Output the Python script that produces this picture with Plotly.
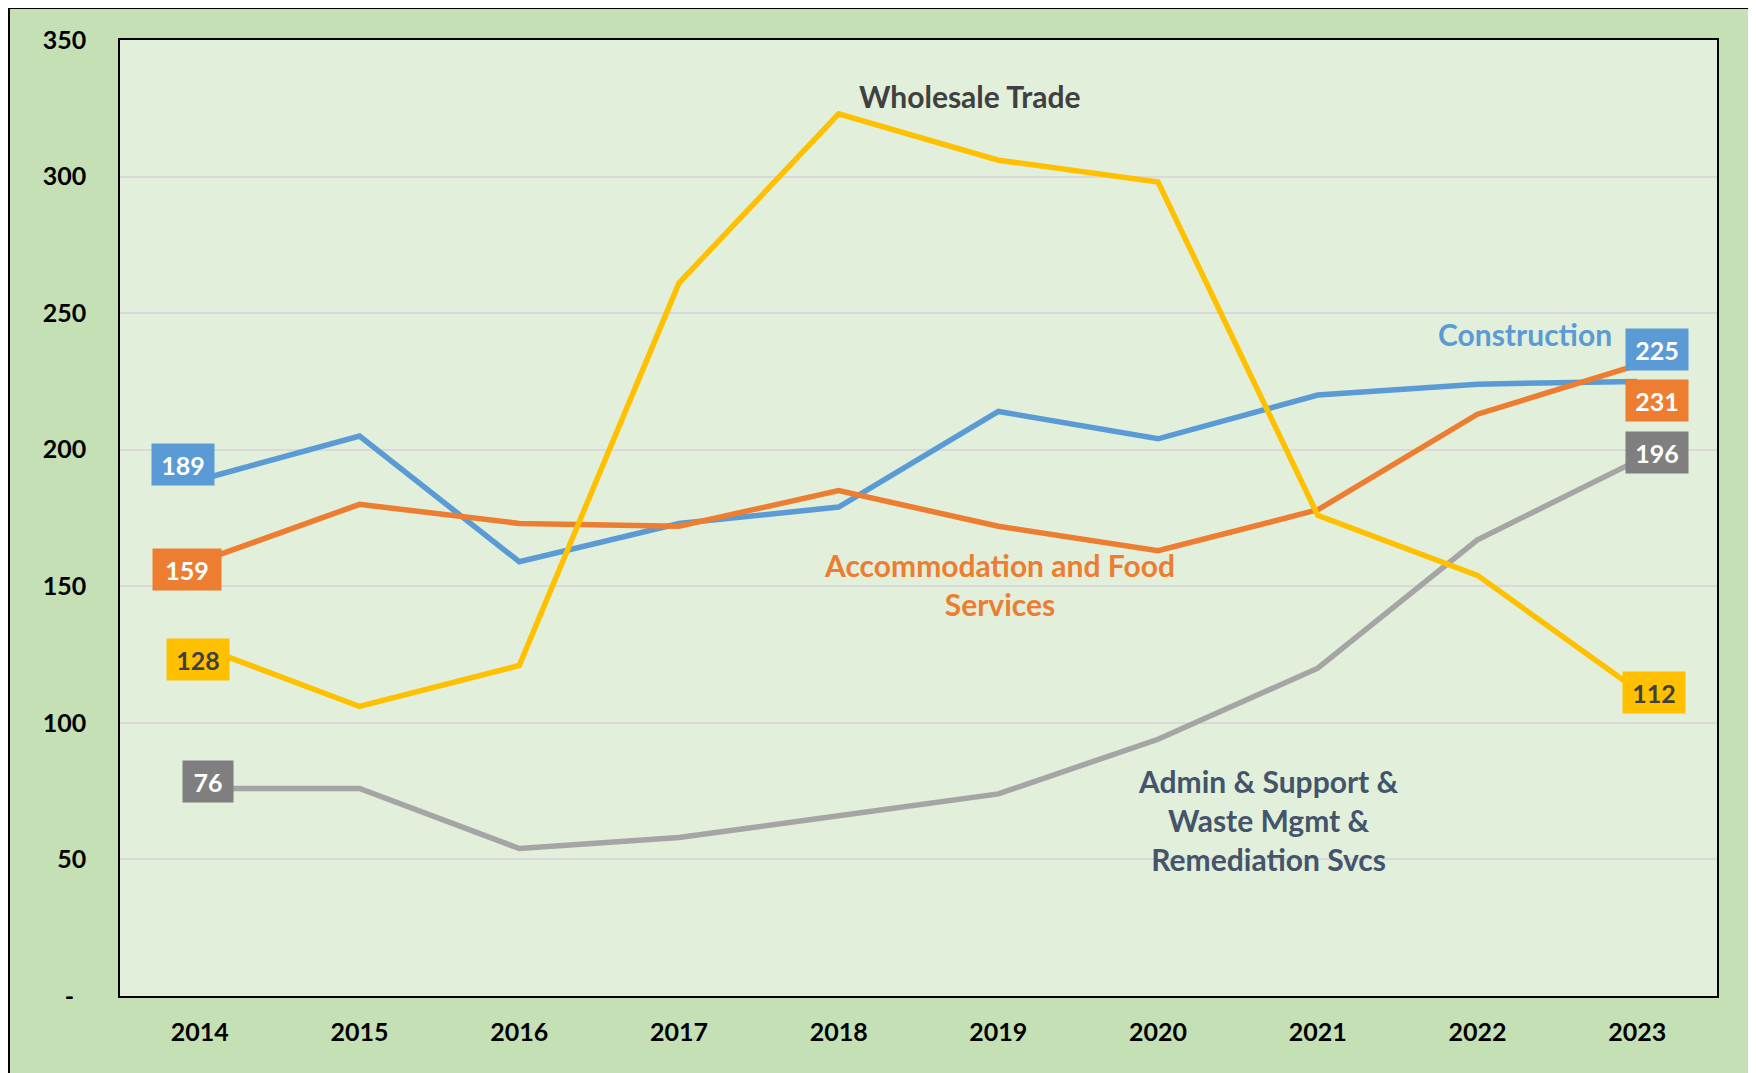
import plotly.graph_objects as go

# ---------------- data ----------------
years = ["2014", "2015", "2016", "2017", "2018", "2019", "2020", "2021", "2022", "2023"]
construction = [189, 205, 159, 173, 179, 214, 204, 220, 224, 225]
accommodation = [159, 180, 173, 172, 185, 172, 163, 178, 213, 231]
admin = [76, 76, 54, 58, 66, 74, 94, 120, 167, 196]
wholesale = [128, 106, 121, 261, 323, 306, 298, 176, 154, 112]
y_tickvals = [0, 50, 100, 150, 200, 250, 300, 350]
y_ticktext = ["-\u00a0\u00a0", "50", "100", "150", "200", "250", "300", "350"]

# ---------------- styles ----------------
FONT = "Lato"
W, H = 1748, 1065          # page has an 8px body margin
ML, MR, MT, MB = 112, 39, 32, 77

series = [
    dict(name="Construction", y=construction, color="#5B9BD5", box="#5B9BD5", txt="white",
         first=(-17, 15), last=(20, 32), w0=56, w1=56),
    dict(name="Accommodation and Food Services", y=accommodation, color="#ED7D31", box="#ED7D31", txt="white",
         first=(-13, -8), last=(20, -35), w0=62, w1=56),
    dict(name="Admin & Support & Waste Mgmt & Remediation Svcs", y=admin, color="#A5A5A5", box="#7F7F7F", txt="white",
         first=(8, 7), last=(20, 8), w0=44, w1=56),
    dict(name="Wholesale Trade", y=wholesale, color="#FFC000", box="#FFC000", txt="#404040",
         first=(-2, -13), last=(17, -2), w0=56, w1=56),
]

fig = go.Figure()
annotations = []
for s in series:
    fig.add_trace(go.Scatter(
        x=years, y=s["y"], mode="lines", name=s["name"],
        line=dict(color=s["color"], width=5.5), showlegend=False, hoverinfo="x+y"))
    for idx, off, bw in ((0, s["first"], s["w0"]), (len(years) - 1, s["last"], s["w1"])):
        annotations.append(dict(
            x=idx, y=s["y"][idx], xref="x", yref="y", text=f"<b>{s['y'][idx]}</b>",
            showarrow=False, xshift=off[0], yshift=off[1],
            bgcolor=s["box"], width=bw, height=35, borderpad=3,
            font=dict(family=FONT, size=25, color=s["txt"])))

# series name labels
annotations += [
    dict(x=4.82, y=329.6, xref="x", yref="y", text="<b>Wholesale Trade</b>", showarrow=False,
         font=dict(family=FONT, size=30, color="#404040")),
    dict(x=8.30, y=242.2, xref="x", yref="y", text="<b>Construction</b>", showarrow=False,
         font=dict(family=FONT, size=30, color="#5B9BD5")),
    dict(x=5.01, y=150.7, xref="x", yref="y", text="<b>Accommodation and Food<br>Services</b>",
         showarrow=False, font=dict(family=FONT, size=30, color="#ED7D31")),
    dict(x=6.69, y=64.3, xref="x", yref="y",
         text="<b>Admin & Support &<br>Waste Mgmt &<br>Remediation Svcs</b>",
         showarrow=False, font=dict(family=FONT, size=30, color="#44546A")),
]

# chart-area frame: black border on left, top, right (bottom is cut off)
pw, ph = W - ML - MR, H - MT - MB
def px(x):
    return (x - ML) / pw
def py(y):
    return (H - MB - y) / ph
shapes = [
    dict(type="rect", xref="paper", yref="paper", x0=px(1746), x1=px(W + 5), y0=py(H + 5), y1=py(-5),
         fillcolor="white", line=dict(width=0), layer="above"),
    dict(type="line", xref="paper", yref="paper", x0=px(1), x1=px(1), y0=py(H + 5), y1=py(0),
         line=dict(color="black", width=2), layer="above"),
    dict(type="line", xref="paper", yref="paper", x0=px(0), x1=px(1746), y0=py(0), y1=py(0),
         line=dict(color="black", width=2), layer="above"),
    dict(type="line", xref="paper", yref="paper", x0=px(1745), x1=px(1745), y0=py(H + 5), y1=py(0),
         line=dict(color="black", width=2), layer="above"),
]

fig.update_layout(
    width=W, height=H,
    margin=dict(l=ML, r=MR, t=MT, b=MB, pad=0),
    paper_bgcolor="#C5E0B4", plot_bgcolor="#E2EFDA",
    font=dict(family=FONT, color="black"),
    annotations=annotations, shapes=shapes,
    showlegend=False,
    xaxis=dict(type="category", range=[-0.5, 9.5], showgrid=False, zeroline=False,
               showline=True, mirror=True, linecolor="black", linewidth=1.5,
               ticks="", tickfont=dict(family=FONT, size=25, color="black", weight="bold"),
               ticklabelstandoff=13, fixedrange=True),
    yaxis=dict(range=[0, 350], tickvals=y_tickvals, ticktext=y_ticktext,
               showgrid=True, gridcolor="#D9D9D9", gridwidth=1.5, zeroline=False,
               showline=True, mirror=True, linecolor="black", linewidth=1.5,
               ticks="", tickfont=dict(family=FONT, size=25, color="black", weight="bold"),
               ticklabelstandoff=27, fixedrange=True),
)

fig.write_html("out.html")
